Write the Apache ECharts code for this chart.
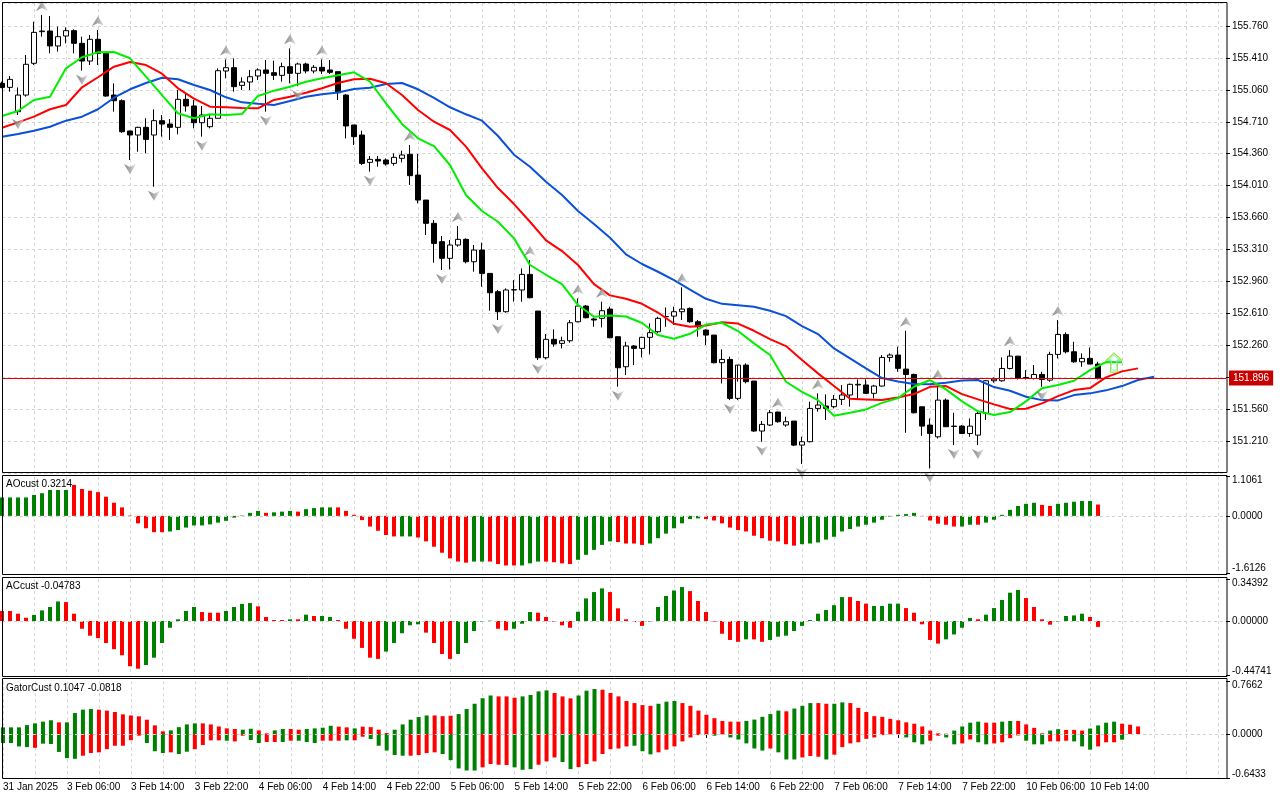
<!DOCTYPE html>
<html><head><meta charset="utf-8">
<script src="https://cdn.jsdelivr.net/npm/echarts@6/dist/echarts.min.js"></script>
<style>html,body{margin:0;padding:0;background:#fff}#c{width:1280px;height:800px}</style>
</head><body><div id="c"></div>
<script>
// ---------- DATA ----------
const open = [155.131,155.087,154.821,155.003,155.351,155.698,155.705,155.541,155.650,155.709,
155.570,155.376,155.614,155.460,155.003,154.941,154.609,154.565,154.649,154.565,
154.722,154.685,154.649,154.956,154.883,154.700,154.656,154.748,155.267,155.303,
155.109,155.146,155.212,155.278,155.248,155.219,155.314,155.241,155.343,155.267,
155.307,155.278,155.259,155.003,154.675,154.565,154.265,154.298,154.291,154.254,
154.309,154.353,154.126,153.852,153.597,153.396,153.213,153.359,153.421,153.176,
153.304,153.048,152.847,152.628,152.866,152.866,153.037,152.635,152.124,152.325,
152.281,152.310,152.518,152.690,152.548,152.555,152.657,152.354,152.025,152.252,
152.226,152.347,152.409,152.573,152.580,152.628,152.664,152.518,152.427,152.372,
152.069,152.105,151.678,152.043,151.868,151.320,151.386,151.528,151.386,151.429,
151.166,151.203,151.568,151.594,151.587,151.667,151.715,151.825,151.825,151.733,
151.813,152.127,152.153,151.999,151.940,151.586,151.385,151.257,151.659,151.374,
151.374,151.293,151.275,151.513,151.871,151.871,152.006,152.141,151.907,151.896,
151.940,151.878,152.160,152.379,152.189,152.079,152.116,152.054];
const high = [155.150,155.212,155.087,155.442,155.807,155.881,155.870,155.753,155.745,155.723,
155.643,155.661,155.716,155.460,155.131,154.956,154.612,154.656,154.748,154.846,
154.784,154.740,155.058,155.014,154.949,154.883,154.784,155.296,155.394,155.405,
155.197,155.278,155.296,155.387,155.380,155.358,155.515,155.358,155.358,155.332,
155.394,155.387,155.259,155.014,154.675,154.612,154.335,154.335,154.309,154.364,
154.393,154.455,154.357,153.852,153.633,153.458,153.414,153.567,153.432,153.359,
153.385,153.048,152.866,152.884,152.975,153.103,153.194,152.635,152.383,152.434,
152.354,152.537,152.774,152.701,152.562,152.738,152.683,152.354,152.299,152.263,
152.354,152.500,152.573,152.675,152.683,152.895,152.675,152.537,152.434,152.372,
152.215,152.135,151.861,152.062,151.868,151.429,151.550,151.532,151.477,151.429,
151.258,151.641,151.733,151.722,151.715,151.824,151.840,151.886,151.886,151.825,
152.153,152.171,152.244,152.419,151.950,151.586,151.458,151.840,151.677,151.520,
151.385,151.458,151.531,151.878,151.908,152.127,152.207,152.141,151.988,152.043,
151.970,152.189,152.536,152.401,152.299,152.171,152.236,152.079];
const low = [155.077,155.040,154.784,154.985,155.332,155.643,155.460,155.479,155.570,155.460,
155.270,155.332,155.332,154.985,154.821,154.590,154.291,154.382,154.364,153.998,
154.547,154.510,154.572,154.821,154.638,154.547,154.638,154.748,155.186,155.040,
155.058,155.058,155.168,154.821,155.168,155.150,155.131,155.100,155.241,155.241,
155.234,155.234,154.949,154.528,154.455,154.236,154.163,154.218,154.229,154.229,
154.265,154.017,153.816,153.469,153.165,153.085,153.092,153.341,153.158,153.067,
152.902,152.639,152.537,152.617,152.738,152.738,152.774,152.098,152.105,152.244,
152.226,152.288,152.511,152.555,152.463,152.456,152.336,151.806,151.934,152.043,
152.127,152.160,152.391,152.464,152.482,152.537,152.507,152.354,152.263,152.062,
151.842,151.659,151.659,151.842,151.312,151.203,151.375,151.411,151.367,151.155,
150.958,151.196,151.532,151.441,151.568,151.605,151.587,151.660,151.726,151.678,
151.806,152.080,151.970,151.301,151.513,151.268,150.910,151.239,151.367,151.166,
151.286,151.257,151.166,151.440,151.850,151.860,151.995,151.885,151.885,151.885,
151.805,151.860,152.116,152.171,152.068,152.024,152.054,151.885];
const close = [155.087,155.175,155.003,155.340,155.690,155.705,155.541,155.643,155.709,155.570,
155.376,155.614,155.460,154.992,154.941,154.601,154.565,154.649,154.517,154.722,
154.685,154.649,154.956,154.883,154.700,154.784,154.748,155.270,155.303,155.095,
155.146,155.204,155.278,155.241,155.219,155.314,155.241,155.343,155.267,155.307,
155.267,155.252,155.029,154.664,154.547,154.254,154.298,154.280,154.247,154.320,
154.346,154.119,153.852,153.597,153.377,153.213,153.359,153.421,153.176,153.304,
153.048,152.836,152.628,152.866,152.870,153.037,152.782,152.124,152.325,152.274,
152.310,152.507,152.690,152.562,152.537,152.639,152.343,152.014,152.252,152.226,
152.347,152.398,152.555,152.576,152.628,152.657,152.518,152.464,152.372,152.069,
152.105,151.678,152.043,151.861,151.320,151.393,151.521,151.422,151.422,151.166,
151.203,151.568,151.605,151.568,151.667,151.715,151.832,151.832,151.733,151.813,
152.127,152.153,152.007,151.940,151.520,151.374,151.293,151.659,151.367,151.370,
151.293,151.374,151.513,151.871,151.889,152.006,152.141,151.896,151.896,151.940,
151.885,152.160,152.379,152.189,152.079,152.116,152.054,151.896];

// Alligator lines, sampled every 2 bars starting at bar 0
const lips = [154.773,154.828,154.949,154.985,155.296,155.417,155.472,155.475,155.406,155.204,
155.003,154.803,154.748,154.792,154.784,154.795,154.993,155.051,155.094,155.149,
155.187,155.221,155.252,155.149,154.912,154.686,154.529,154.444,154.236,153.907,
153.732,153.614,153.432,153.140,153.033,152.931,152.701,152.573,152.586,152.575,
152.504,152.372,152.332,152.386,152.487,152.507,152.416,152.281,152.153,151.860,
151.750,151.659,151.487,151.520,151.557,151.629,151.681,151.805,151.879,151.777,
151.645,151.536,151.495,151.528,151.645,151.788,151.824,151.871,151.988,152.076,
152.073];
const teeth = [154.645,154.704,154.766,154.847,154.894,155.088,155.198,155.314,155.365,155.332,
155.237,155.077,154.963,154.875,154.869,154.861,154.858,154.949,154.985,155.029,
155.077,155.135,155.176,155.182,155.132,155.003,154.839,154.711,154.620,154.437,
154.200,153.984,153.808,153.614,153.410,153.293,153.140,152.931,152.807,152.770,
152.715,152.619,152.496,152.463,152.476,152.512,152.498,152.419,152.328,152.251,
152.098,151.952,151.813,151.674,151.667,151.659,151.687,151.725,151.805,151.813,
151.725,151.667,151.612,151.561,151.564,151.623,151.703,151.769,151.791,151.908,
151.974,152.007];
const jaw = [154.546,154.576,154.612,154.656,154.722,154.766,154.847,154.974,155.066,155.135,
155.193,155.176,155.113,155.058,154.978,154.923,154.908,154.894,154.938,154.985,
155.011,155.031,155.069,155.084,155.124,155.135,155.066,154.971,154.869,154.792,
154.722,154.554,154.349,154.217,154.053,153.907,153.732,153.589,153.439,153.257,
153.151,153.066,152.975,152.869,152.770,152.714,152.699,152.682,152.639,152.580,
152.471,152.383,152.226,152.117,152.007,151.901,151.862,151.835,151.832,151.849,
151.875,151.879,151.802,151.761,151.696,151.659,151.656,151.714,151.733,151.766,
151.813,151.879,151.915];

const upFractals = [5,12,28,36,40,51,57,66,72,75,85,97,102,113,117,126,132];
const downFractals = [2,10,16,19,25,33,37,46,55,62,67,77,91,95,100,116,119,122,130];
const signalArrow = [[139, 152.07]];
const currentPrice = 151.896;

const aoVal = [0.52,0.52,0.52,0.52,0.59,0.64,0.73,0.73,0.73,0.875,
0.76,0.71,0.67,0.54,0.37,0.24,0.01,-0.21,-0.35,-0.46,
-0.46,-0.44,-0.40,-0.33,-0.27,-0.27,-0.24,-0.19,-0.14,-0.05,
0.01,0.085,0.14,0.085,0.10,0.12,0.14,0.12,0.19,0.22,
0.24,0.24,0.24,0.14,0.03,-0.12,-0.30,-0.42,-0.54,-0.58,
-0.58,-0.58,-0.61,-0.72,-0.87,-1.04,-1.20,-1.29,-1.32,-1.29,
-1.29,-1.29,-1.36,-1.40,-1.40,-1.40,-1.34,-1.29,-1.29,-1.31,
-1.34,-1.36,-1.24,-1.10,-0.96,-0.82,-0.72,-0.74,-0.78,-0.78,
-0.82,-0.78,-0.63,-0.50,-0.35,-0.21,-0.09,-0.07,-0.09,-0.13,
-0.21,-0.33,-0.40,-0.44,-0.56,-0.63,-0.70,-0.72,-0.80,-0.84,
-0.80,-0.78,-0.75,-0.67,-0.59,-0.44,-0.37,-0.30,-0.25,-0.19,
-0.11,-0.02,0.03,0.05,0.085,-0.01,-0.13,-0.22,-0.25,-0.30,
-0.30,-0.25,-0.25,-0.19,-0.11,0.03,0.17,0.28,0.34,0.37,
0.31,0.28,0.34,0.37,0.40,0.42,0.42,0.32];
const aoUp = [1,1,1,1,1,1,1,1,1,0, 0,0,0,0,0,0,0,0,0,0, 0,1,1,1,1,1,1,1,1,1, 1,1,1,0,1,1,1,0,1,1,
1,1,0,0,0,0,0,0,0,0, 1,1,0,0,0,0,0,0,0,1, 1,0,0,0,0,1,1,1,0,0, 0,0,1,1,1,1,1,0,0,0,
0,1,1,1,1,1,1,1,0,0, 0,0,0,0,0,0,0,0,0,0, 1,1,1,1,1,1,1,1,1,1, 1,1,1,1,1,0,0,0,0,0,
1,1,0,1,1,1,1,1,1,1, 0,0,1,1,1,1,1,0];

const acVal = [0.082,0.082,0.06,0.027,0.05,0.087,0.115,0.16,0.155,0.06,
-0.063,-0.12,-0.14,-0.18,-0.23,-0.28,-0.37,-0.39,-0.36,-0.30,
-0.18,-0.055,0.014,0.082,0.115,0.074,0.068,0.068,0.082,0.115,
0.14,0.147,0.12,0.033,0.008,0.008,0.014,0.014,0.052,0.041,
0.041,0.033,0.008,-0.063,-0.145,-0.22,-0.30,-0.31,-0.25,-0.18,
-0.10,-0.035,-0.027,-0.095,-0.18,-0.27,-0.31,-0.27,-0.18,-0.082,
-0.005,0.003,-0.063,-0.076,-0.063,-0.022,0.074,0.068,0.033,-0.005,
-0.035,-0.055,0.076,0.185,0.237,0.267,0.237,0.104,0.014,-0.008,
-0.04,-0.005,0.115,0.205,0.25,0.278,0.245,0.164,0.074,-0.005,
-0.104,-0.155,-0.17,-0.15,-0.15,-0.17,-0.155,-0.128,-0.12,-0.082,
-0.04,0.008,0.06,0.09,0.13,0.196,0.196,0.164,0.142,0.123,
0.123,0.142,0.142,0.106,0.068,-0.027,-0.155,-0.185,-0.15,-0.11,
-0.055,0.025,0.014,0.052,0.106,0.172,0.232,0.254,0.188,0.115,
0.014,-0.03,-0.005,0.041,0.046,0.06,0.033,-0.048];
const acUp = [0,0,0,0,1,1,1,1,0,0, 0,0,0,0,0,0,0,0,1,1, 1,1,1,1,1,0,0,0,1,1, 1,1,0,0,0,0,1,0,1,0,
1,1,0,0,0,0,0,0,1,1, 1,1,1,0,0,0,0,1,1,1, 1,1,0,0,1,1,1,0,0,0, 0,0,1,1,1,1,0,0,0,0,
0,1,1,1,1,1,0,0,0,0, 0,0,0,1,0,0,1,1,1,1, 1,1,1,1,1,1,0,0,0,1, 1,1,1,0,0,0,0,0,1,1,
1,1,0,1,1,1,1,1,0,0, 0,0,1,1,1,1,0,0];

const gatorUpVal = [0.097,0.097,0.097,0.13,0.155,0.18,0.20,0.17,0.17,0.305,
0.354,0.363,0.354,0.34,0.32,0.286,0.27,0.257,0.208,0.126,
0.039,0.053,0.10,0.14,0.155,0.155,0.14,0.11,0.082,0.073,
0.063,0.077,0.053,0.01,0.053,0.073,0.073,0.063,0.073,0.082,
0.092,0.12,0.107,0.097,0.082,0.107,0.10,0.063,0.015,0.063,
0.14,0.208,0.247,0.27,0.27,0.26,0.266,0.29,0.363,0.44,
0.52,0.56,0.547,0.547,0.528,0.547,0.567,0.62,0.634,0.596,
0.547,0.518,0.56,0.63,0.654,0.644,0.596,0.547,0.48,0.45,
0.42,0.41,0.44,0.47,0.48,0.45,0.41,0.34,0.28,0.23,
0.19,0.18,0.18,0.19,0.21,0.25,0.29,0.34,0.33,0.37,
0.41,0.45,0.45,0.44,0.44,0.46,0.45,0.38,0.32,0.26,
0.25,0.22,0.20,0.17,0.15,0.11,0.05,0.01,0.005,0.05,
0.11,0.165,0.18,0.165,0.165,0.18,0.19,0.19,0.14,0.09,
0.01,0.05,0.07,0.06,0.06,0.05,0.08,0.125,0.165,0.18,
0.15,0.135,0.11];
const gatorUpUp = [1,1,1,1,1,1,1,0,1,1, 1,1,0,0,0,0,0,0,0,0, 0,1,1,1,1,0,0,0,0,0, 1,1,0,0,1,1,0,0,1,1,
1,1,0,0,1,0,0,0,0,1, 1,1,1,1,0,0,0,1,1,1, 1,1,0,0,0,1,1,1,1,0, 0,0,1,1,1,0,0,0,0,0,
0,0,1,1,1,0,0,0,0,0, 0,0,0,1,1,1,1,1,0,1, 1,1,0,0,1,1,0,0,0,0, 0,0,0,0,0,0,0,0,0,1,
1,1,1,0,0,1,1,0,0,0, 0,1,1,0,0,0,1,1,1,1, 0,0,0];
const gatorDnVal = [-0.13,-0.13,-0.18,-0.19,-0.20,-0.14,-0.145,-0.26,-0.35,-0.36,
-0.315,-0.276,-0.266,-0.22,-0.17,-0.17,-0.09,-0.024,-0.13,-0.25,
-0.276,-0.266,-0.29,-0.257,-0.22,-0.16,-0.092,-0.092,-0.097,-0.107,
-0.024,-0.087,-0.13,-0.116,-0.116,-0.116,-0.097,-0.097,-0.116,-0.13,
-0.097,-0.097,-0.097,-0.092,-0.092,-0.039,-0.073,-0.17,-0.24,-0.305,
-0.315,-0.315,-0.305,-0.276,-0.266,-0.29,-0.38,-0.50,-0.53,-0.53,
-0.484,-0.436,-0.446,-0.45,-0.484,-0.52,-0.51,-0.446,-0.397,-0.34,
-0.407,-0.51,-0.48,-0.436,-0.397,-0.29,-0.22,-0.21,-0.18,-0.17,
-0.25,-0.295,-0.266,-0.227,-0.18,-0.107,-0.05,-0.015,-0.015,-0.024,
-0.005,-0.05,-0.08,-0.136,-0.21,-0.24,-0.21,-0.266,-0.37,-0.37,
-0.34,-0.32,-0.33,-0.37,-0.30,-0.19,-0.136,-0.12,-0.07,-0.05,
-0.015,-0.005,-0.003,-0.05,-0.12,-0.15,-0.097,-0.024,-0.05,-0.15,
-0.136,-0.08,-0.12,-0.15,-0.136,-0.12,-0.06,-0.02,-0.097,-0.15,
-0.15,-0.107,-0.107,-0.097,-0.107,-0.18,-0.227,-0.18,-0.12,-0.12,
-0.082];
const gatorDnUp = [1,1,1,1,0,1,1,1,1,1, 0,0,0,0,0,0,0,0,1,1, 1,0,1,1,0,0,0,0,1,0, 0,1,1,0,0,1,0,1,1,1,
0,0,0,1,0,0,1,1,1,1, 1,0,0,0,0,1,1,1,1,1, 0,0,0,0,1,1,1,0,0,0, 1,1,0,0,0,0,0,0,0,1,
1,1,0,0,0,0,0,0,0,1, 0,1,1,1,1,1,0,1,1,1, 0,0,0,1,0,0,0,0,0,0, 0,0,0,1,1,1,0,0,1,1,
0,0,1,1,0,0,0,0,1,1, 1,0,0,0,1,1,1,0,0,0, 1];

const timeTickIdx = [0,8,16,24,32,40,48,56,64,72,80,88,96,104,112,120,128,136];
const timeTickText = ['31 Jan 2025','3 Feb 06:00','3 Feb 14:00','3 Feb 22:00','4 Feb 06:00','4 Feb 14:00',
'4 Feb 22:00','5 Feb 06:00','5 Feb 14:00','5 Feb 22:00','6 Feb 06:00','6 Feb 14:00','6 Feb 22:00',
'7 Feb 06:00','7 Feb 14:00','7 Feb 22:00','10 Feb 06:00','10 Feb 14:00'];

// ---------- CHART ----------
const SLOTS = 154;
const FONT = '"Liberation Sans",Arial,sans-serif';
const FS = 10;
const GREEN = '#008000', RED = '#ff0000';
const GRID_C = '#d4d4d4';
const cats = Array.from({length: SLOTS}, (_, i) => String(i));
const labelMap = {};
timeTickIdx.forEach((k, j) => labelMap[k] = timeTickText[j]);

const candleData = open.map((o, i) => [o, close[i], low[i], high[i]]);
const step2 = arr => arr.map((v, i) => [i * 2, v]);

function xAxisFor(g, last) {
  return {
    type: 'category', gridIndex: g, data: cats, boundaryGap: false,
    axisLine: {show: false},
    axisTick: last ? {show: true, length: 4, interval: i => labelMap[i] !== undefined, lineStyle: {color: '#000'}} : {show: false},
    axisLabel: last ? {show: true, interval: 0, hideOverlap: false, formatter: (v, i) => labelMap[i] || '',
      align: 'left', margin: 4, fontSize: FS, fontFamily: FONT, color: '#000'} : {show: false},
    splitLine: {show: true, interval: i => i % 4 === 0, lineStyle: {color: GRID_C, type: [3, 3], width: 1}}
  };
}
function subY(g, mn, mx, dec) {
  const vals = [mn, 0, mx];
  return {
    type: 'value', gridIndex: g, position: 'right', min: mn, max: mx,
    axisLine: {show: false},
    axisTick: {show: true, length: 4, customValues: vals, lineStyle: {color: '#000'}},
    splitLine: {show: false},
    axisLabel: {
      customValues: vals, showMinLabel: true, showMaxLabel: true,
      margin: 6, fontSize: FS, fontFamily: FONT, color: '#000',
      formatter: v => {
        const s = v.toFixed(dec);
        if (Math.abs(v - mx) < 1e-9) return '{t|' + s + '}';
        if (Math.abs(v - mn) < 1e-9) return '{b|' + s + '}';
        return s;
      },
      rich: {
        t: {padding: [8, 0, 0, 0], fontSize: FS, fontFamily: FONT, color: '#000'},
        b: {padding: [0, 0, 9, 0], fontSize: FS, fontFamily: FONT, color: '#000'}
      }
    }
  };
}
const zeroLine = {silent: true, symbol: ['none', 'none'], data: [{yAxis: 0}],
  lineStyle: {color: '#d0d0d0', type: [3, 3], width: 1}, label: {show: false}};
const colored = (vals, up) => vals.map((v, i) => ({value: [i, v], itemStyle: {color: up[i] ? GREEN : RED}}));

const fracGrad = () => new echarts.graphic.LinearGradient(0, 0, 1, 0, [
  {offset: 0, color: '#6a6a6a'}, {offset: 0.5, color: '#9a9a9a'}, {offset: 1, color: '#dcdcdc'}]);

const chart = echarts.init(document.getElementById('c'));
chart.setOption({
  animation: false,
  backgroundColor: '#ffffff',
  grid: [
    {left: 2, top: 3, width: 1224, height: 470},
    {left: 2, top: 476.7, width: 1224, height: 96.3},
    {left: 2, top: 579, width: 1224, height: 96.7},
    {left: 2, top: 681.3, width: 1224, height: 97}
  ],
  xAxis: [xAxisFor(0, false), xAxisFor(1, false), xAxisFor(2, false), xAxisFor(3, true)],
  yAxis: [
    {type: 'value', gridIndex: 0, position: 'right', min: 150.86, max: 156.012, interval: 0.35,
      axisLine: {show: false},
      axisTick: {show: true, length: 4, lineStyle: {color: '#000'}},
      axisLabel: {margin: 6, fontSize: FS, fontFamily: FONT, color: '#000', showMinLabel: false, showMaxLabel: false,
        formatter: v => v.toFixed(3)},
      splitLine: {show: true, lineStyle: {color: GRID_C, type: [3, 3], width: 1}}},
    subY(1, -1.6126, 1.1061, 4),
    subY(2, -0.44741, 0.34392, 5),
    subY(3, -0.6433, 0.7662, 4)
  ],
  series: [
    {type: 'candlestick', xAxisIndex: 0, yAxisIndex: 0, data: candleData, barWidth: 5, z: 2,
      itemStyle: {color: '#ffffff', color0: '#000000', borderColor: '#000000', borderColor0: '#000000', borderWidth: 1},
      markLine: {silent: true, symbol: ['none', 'none'], data: [{yAxis: currentPrice}],
        lineStyle: {color: '#e00000', width: 1, type: 'solid'},
        label: {show: true, position: 'end', distance: 3, formatter: () => currentPrice.toFixed(3),
          color: '#ffffff', backgroundColor: '#c80000', padding: [3, 4, 2, 4], fontSize: FS, fontFamily: FONT}}},
    {type: 'line', xAxisIndex: 0, yAxisIndex: 0, data: step2(jaw), showSymbol: false, symbol: 'none', z: 3,
      lineStyle: {color: '#0a50d8', width: 2}},
    {type: 'line', xAxisIndex: 0, yAxisIndex: 0, data: step2(teeth), showSymbol: false, symbol: 'none', z: 3,
      lineStyle: {color: '#ff0000', width: 2}},
    {type: 'line', xAxisIndex: 0, yAxisIndex: 0, data: step2(lips), showSymbol: false, symbol: 'none', z: 3,
      lineStyle: {color: '#00ee00', width: 2}},
    {type: 'scatter', xAxisIndex: 0, yAxisIndex: 0, z: 4, clip: false,
      data: upFractals.map(i => [i, high[i]]),
      symbol: 'path://M6,0 L12,10 L6,7 L0,10 Z', symbolSize: [12, 10], symbolOffset: [0, -9],
      itemStyle: {color: fracGrad()}},
    {type: 'scatter', xAxisIndex: 0, yAxisIndex: 0, z: 4, clip: false,
      data: downFractals.map(i => [i, low[i]]),
      symbol: 'path://M6,10 L12,0 L6,3 L0,0 Z', symbolSize: [12, 10], symbolOffset: [0, 9],
      itemStyle: {color: fracGrad()}},
    {type: 'scatter', xAxisIndex: 0, yAxisIndex: 0, z: 5, data: signalArrow,
      symbol: 'path://M7.5,0 L15,7 L11,7 L11,19 L4,19 L4,7 L0,7 Z', symbolSize: [15, 19],
      itemStyle: {color: 'rgba(0,0,0,0)', borderColor: '#8ee000', borderWidth: 1.2}},
    {type: 'scatter', xAxisIndex: 0, yAxisIndex: 0, z: 5, data: signalArrow,
      symbol: 'path://M7.5,0 L15,7 L11,7 L11,19 L4,19 L4,7 L0,7 Z', symbolSize: [11, 15],
      itemStyle: {color: 'rgba(0,0,0,0)', borderColor: '#7fe8e8', borderWidth: 1}},
    {type: 'bar', xAxisIndex: 1, yAxisIndex: 1, data: colored(aoVal, aoUp), barWidth: 4, markLine: zeroLine},
    {type: 'bar', xAxisIndex: 2, yAxisIndex: 2, data: colored(acVal, acUp), barWidth: 4, markLine: zeroLine},
    {type: 'bar', xAxisIndex: 3, yAxisIndex: 3, data: colored(gatorUpVal, gatorUpUp), barWidth: 4, barGap: '-100%'},
    {type: 'bar', xAxisIndex: 3, yAxisIndex: 3, data: colored(gatorDnVal, gatorDnUp), barWidth: 4, barGap: '-100%', markLine: zeroLine}
  ],
  graphic: [
    {type: 'rect', silent: true, z: 100, shape: {x: 2.5, y: 2.5, width: 1224.5, height: 470}, style: {fill: 'none', stroke: '#000', lineWidth: 1}},
    {type: 'rect', silent: true, z: 100, shape: {x: 2.5, y: 475.5, width: 1224.5, height: 99}, style: {fill: 'none', stroke: '#000', lineWidth: 1}},
    {type: 'rect', silent: true, z: 100, shape: {x: 2.5, y: 577.5, width: 1224.5, height: 99}, style: {fill: 'none', stroke: '#000', lineWidth: 1}},
    {type: 'rect', silent: true, z: 100, shape: {x: 2.5, y: 678.5, width: 1224.5, height: 100}, style: {fill: 'none', stroke: '#000', lineWidth: 1}},
    {type: 'text', left: 6, top: 479, z: 100, style: {text: 'AOcust 0.3214', font: FS + 'px ' + FONT, fill: '#000'}},
    {type: 'text', left: 6, top: 581, z: 100, style: {text: 'ACcust -0.04783', font: FS + 'px ' + FONT, fill: '#000'}},
    {type: 'text', left: 6, top: 683, z: 100, style: {text: 'GatorCust 0.1047 -0.0818', font: FS + 'px ' + FONT, fill: '#000'}}
  ]
});
</script></body></html>
